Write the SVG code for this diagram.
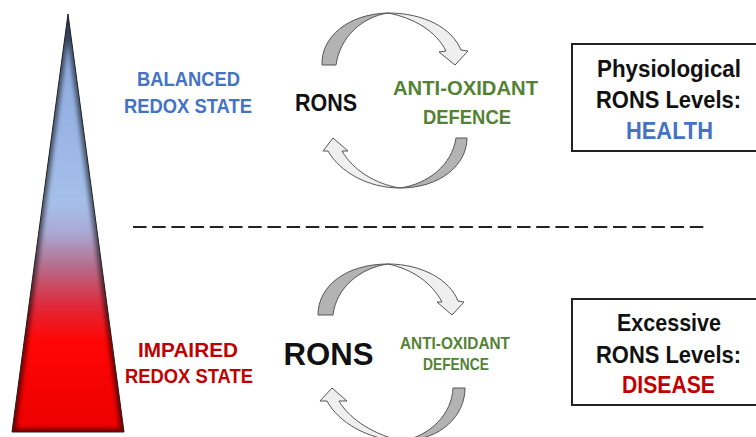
<svg xmlns="http://www.w3.org/2000/svg" width="756" height="437" viewBox="0 0 756 437">
<defs>
<style>
text{font-family:"Liberation Sans",Arial,sans-serif;font-weight:bold;text-anchor:middle}
.blue{fill:#4472C4}
.red{fill:#C00000}
.green{fill:#548235}
.blk{fill:#111}
.dark{fill:#b3b3b3;stroke:#555;stroke-width:1;stroke-linejoin:round}
.light{fill:#efefef;stroke:#555;stroke-width:1;stroke-linejoin:round}
.box{fill:#fff;stroke:#222;stroke-width:2}
</style>
<linearGradient id="tri" x1="0" y1="14" x2="0" y2="432" gradientUnits="userSpaceOnUse">
<stop offset="0" stop-color="#4f6fb0"/>
<stop offset="0.1" stop-color="#8eabdf"/>
<stop offset="0.45" stop-color="#a5bfea"/>
<stop offset="0.52" stop-color="#a9abd6"/>
<stop offset="0.6" stop-color="#b4708f"/>
<stop offset="0.7" stop-color="#e02838"/>
<stop offset="0.78" stop-color="#ff0606"/>
<stop offset="1" stop-color="#ec0000"/>
</linearGradient>
<clipPath id="triclip"><path d="M68,14 L124,432 L12,432 Z"/></clipPath>
<filter id="blur" x="-20%" y="-20%" width="140%" height="140%"><feGaussianBlur stdDeviation="2"/></filter>
</defs>
<rect width="756" height="437" fill="#fff"/>

<g id="triangle">
<path d="M68,14 L124,432 L12,432 Z" fill="url(#tri)"/>
<g clip-path="url(#triclip)">
<path d="M68,14 L124,432 L12,432 Z" fill="none" stroke="#000" stroke-opacity="0.55" stroke-width="7" filter="url(#blur)"/>
</g>
<path d="M68,14 L124,432 L12,432 Z" fill="none" stroke="#222" stroke-width="1"/>
</g>

<g id="divider">
<line x1="133" y1="227" x2="706" y2="227" stroke="#222" stroke-width="2" stroke-dasharray="13.5 5.7"/>
</g>

<g id="balanced">
<text class="blue" x="188.5" y="86" font-size="19.5" textLength="103" lengthAdjust="spacingAndGlyphs">BALANCED</text>
<text class="blue" x="188" y="113" font-size="19.5" textLength="128" lengthAdjust="spacingAndGlyphs">REDOX STATE</text>
</g>

<g id="rons-top">
<text class="blk" x="326" y="111" font-size="24" textLength="62" lengthAdjust="spacingAndGlyphs">RONS</text>
</g>

<g id="antiox-top">
<text class="green" x="465.5" y="95" font-size="21" textLength="145" lengthAdjust="spacingAndGlyphs">ANTI-OXIDANT</text>
<text class="green" x="467" y="124" font-size="21" textLength="88" lengthAdjust="spacingAndGlyphs">DEFENCE</text>
</g>

<g id="box-health">
<rect class="box" x="572" y="44" width="200" height="107"/>
<text class="blk" x="669" y="77" font-size="23.5" textLength="144" lengthAdjust="spacingAndGlyphs">Physiological</text>
<text class="blk" x="668.5" y="108" font-size="23.5" textLength="145" lengthAdjust="spacingAndGlyphs">RONS Levels:</text>
<text class="blue" x="669.5" y="139" font-size="23.5" textLength="87" lengthAdjust="spacingAndGlyphs">HEALTH</text>
</g>

<g id="impaired">
<text class="red" x="188" y="357" font-size="20.5" textLength="100" lengthAdjust="spacingAndGlyphs">IMPAIRED</text>
<text class="red" x="189" y="383" font-size="19.5" textLength="128" lengthAdjust="spacingAndGlyphs">REDOX STATE</text>
</g>

<g id="rons-bottom">
<text class="blk" x="328.5" y="365" font-size="31" textLength="90" lengthAdjust="spacingAndGlyphs">RONS</text>
</g>

<g id="antiox-bottom">
<text class="green" x="455" y="349" font-size="16.5" textLength="110" lengthAdjust="spacingAndGlyphs">ANTI-OXIDANT</text>
<text class="green" x="456" y="370" font-size="16.5" textLength="66" lengthAdjust="spacingAndGlyphs">DEFENCE</text>
</g>

<g id="box-disease">
<rect class="box" x="572" y="299" width="200" height="106"/>
<text class="blk" x="669" y="331" font-size="23.5" textLength="104" lengthAdjust="spacingAndGlyphs">Excessive</text>
<text class="blk" x="668.5" y="363" font-size="23.5" textLength="145" lengthAdjust="spacingAndGlyphs">RONS Levels:</text>
<text class="red" x="668.5" y="393" font-size="23.5" textLength="93" lengthAdjust="spacingAndGlyphs">DISEASE</text>
</g>

<g id="connectors">
<!-- top cycle, upper arrow -->
<path class="dark" d="M322,65 C321,37 348,14 388,13 C362,17 340,37 336,65 Z"/>
<path class="light" d="M388,13 C424,13 452,28 461,50 L468,51 L455,65 L439,52 L446,51 C436,31 414,18 388,13 Z"/>
<!-- top cycle, lower arrow -->
<path class="dark" d="M467,138 C467,165 440,188 400,188 C428,184 452,165 456,138 Z"/>
<path class="light" d="M400,188 C368,188 340,172 328,151 L323,151 L333,138 L348,151 L342,151 C353,170 375,184 400,188 Z"/>
<!-- bottom cycle, upper arrow -->
<path class="dark" d="M318,315 C318,286 346,264 388,264 C360,268 336,288 333,315 Z"/>
<path class="light" d="M388,264 C422,264 450,280 458,301 L464,302 L452,315 L437,302 L442,302 C432,283 412,269 388,264 Z"/>
<!-- bottom cycle, lower arrow -->
<path class="dark" d="M465,388 C465,415 442,440 402,441 C430,436 452,414 453,388 Z"/>
<path class="light" d="M402,441 C368,440 338,422 327,401 L320,401 L332,388 L347,401 L339,401 C350,420 375,435 402,441 Z"/>
</g>
</svg>
